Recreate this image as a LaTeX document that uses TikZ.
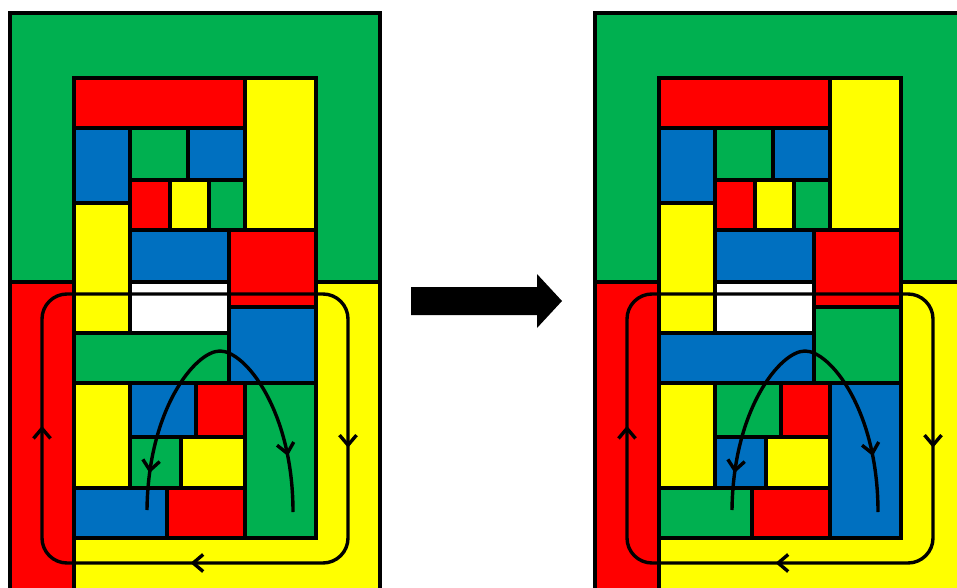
\documentclass[tikz,border=0pt]{standalone}
\usetikzlibrary{arrows.meta,decorations.markings}

\definecolor{mgreen}{HTML}{00B050}
\definecolor{mblue}{HTML}{0070C0}
\definecolor{mred}{HTML}{FF0000}
\definecolor{myellow}{HTML}{FFFF00}

\tikzset{
  cell/.style={draw=black, line width=3.2pt, line join=miter},
  flowline/.style={draw=black, line width=3.4pt},
  barbtip/.style={decoration={markings, mark=at position #1 with {\arrow{Straight Barb[length=10pt,width=17pt]}}}, postaction={decorate}},
}

% One mosaic panel; #1 and #2 are the two colours that trade places
\newcommand\mosaicpanel[2]{%
  % surrounding regions
  \path[cell, fill=mgreen]  (10,13)  rectangle (380,282);
  \path[cell, fill=mred]    (10,282) rectangle (74,620);
  \path[cell, fill=myellow] (74,282) rectangle (380,620);
  % inner tiling
  \path[cell, fill=mred]    (74,78)   rectangle (245,128);
  \path[cell, fill=myellow] (245,78)  rectangle (316,230);
  \path[cell, fill=mblue]   (74,128)  rectangle (130,203);
  \path[cell, fill=mgreen]  (130,128) rectangle (188,180);
  \path[cell, fill=mblue]   (188,128) rectangle (245,180);
  \path[cell, fill=mred]    (130,180) rectangle (170,230);
  \path[cell, fill=myellow] (170,180) rectangle (209,230);
  \path[cell, fill=mgreen]  (209,180) rectangle (245,230);
  \path[cell, fill=myellow] (74,203)  rectangle (130,333);
  \path[cell, fill=mblue]   (130,230) rectangle (229,282);
  \path[cell, fill=mred]    (229,230) rectangle (316,307);
  \path[cell, fill=white]   (130,282) rectangle (229,333);
  \path[cell, fill=#1]      (229,307) rectangle (316,383);
  \path[cell, fill=#2]      (74,333)  rectangle (229,383);
  \path[cell, fill=myellow] (74,383)  rectangle (130,488);
  \path[cell, fill=#1]      (130,383) rectangle (196,437);
  \path[cell, fill=mred]    (196,383) rectangle (245,437);
  \path[cell, fill=#2]      (130,437) rectangle (181,488);
  \path[cell, fill=myellow] (181,437) rectangle (245,488);
  \path[cell, fill=#2]      (245,383) rectangle (316,538);
  \path[cell, fill=#1]      (74,488)  rectangle (167,538);
  \path[cell, fill=mred]    (167,488) rectangle (245,538);
  \path[cell] (74,78) rectangle (316,538);
  % circulation loop
  \draw[flowline, rounded corners=25pt,
        decoration={markings,
          mark=at position 266pt with {\arrow{Straight Barb[length=10pt,width=17pt]}},
          mark=at position 528pt with {\arrow{Straight Barb[length=10pt,width=17pt]}},
          mark=at position 803pt with {\arrow{Straight Barb[length=10pt,width=17pt]}}},
        postaction={decorate}]
    (200,294) -- (348,294) -- (348,563) -- (42,563) -- (42,294) -- cycle;
  % arch splitting into two downward branches
  \coordinate (apex) at (220,351);
  \coordinate (leftfoot) at (147,510);
  \coordinate (rightfoot) at (293,512);
  \draw[flowline, barbtip=0.8] (apex) .. controls (195,351) and (148,410) .. (leftfoot);
  \draw[flowline, barbtip=0.7] (apex) .. controls (245,351) and (293,410) .. (rightfoot);
}

\begin{document}
\begin{tikzpicture}[x=1pt, y=-1pt]
  \useasboundingbox (0,0) rectangle (957,588);
  \clip (0,0) rectangle (957,588);
  \fill[white] (0,0) rectangle (957,588);

  \begin{scope}
    \mosaicpanel{mblue}{mgreen}
  \end{scope}

  % transition arrow
  \fill[black] (411,287) -- (537,287) -- (537,274) -- (562,301)
               -- (537,328) -- (537,315) -- (411,315) -- cycle;

  \begin{scope}[xshift=585pt]
    \mosaicpanel{mgreen}{mblue}
  \end{scope}
\end{tikzpicture}
\end{document}
